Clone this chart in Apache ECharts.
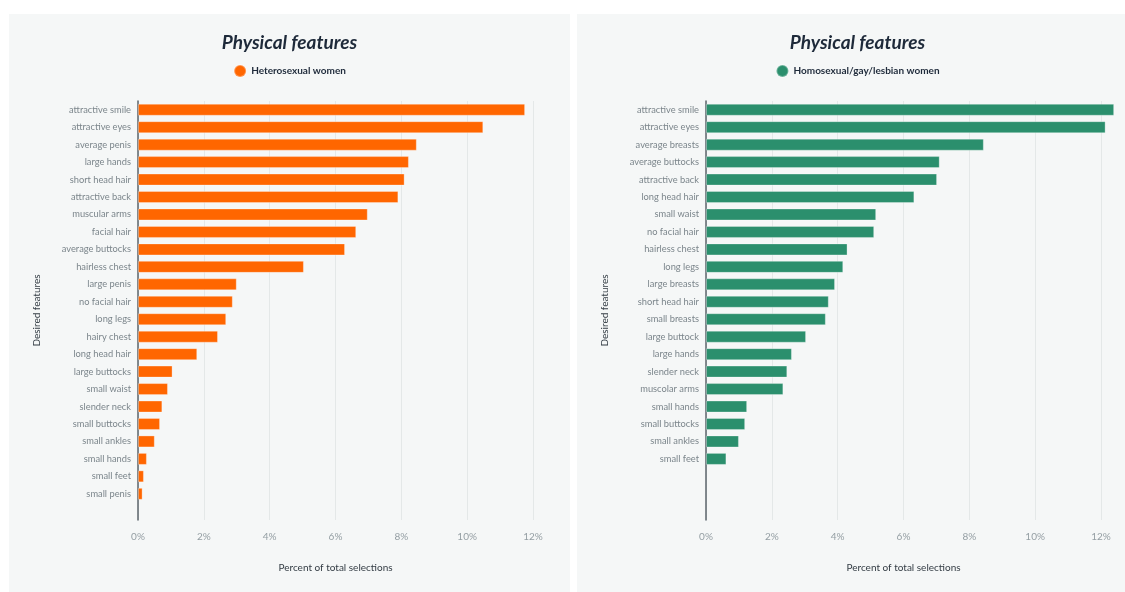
<!DOCTYPE html>
<html>
<head>
<meta charset="utf-8">
<title>Physical features</title>
<script src="https://cdn.jsdelivr.net/npm/echarts@6/dist/echarts.min.js"></script>
<style>
  html, body { margin: 0; padding: 0; background: #fff; width: 1125px; height: 592px; overflow: hidden; }
  .panel { position: absolute; top: 14px; width: 561px; height: 578px; background: #f5f7f7; }
</style>
</head>
<body>
<div class="panel" id="left" style="left: 9px;"></div>
<div class="panel" id="right" style="left: 577px;"></div>
<script>
// heterosexual women
var heteroFeatures = ['attractive smile', 'attractive eyes', 'average penis', 'large hands', 'short head hair',
  'attractive back', 'muscular arms', 'facial hair', 'average buttocks', 'hairless chest', 'large penis',
  'no facial hair', 'long legs', 'hairy chest', 'long head hair', 'large buttocks', 'small waist',
  'slender neck', 'small buttocks', 'small ankles', 'small hands', 'small feet', 'small penis'];
var heteroValues = [11.76, 10.49, 8.47, 8.23, 8.10, 7.91, 6.98, 6.63, 6.29, 5.04, 3.00,
  2.88, 2.68, 2.43, 1.80, 1.05, 0.91, 0.74, 0.67, 0.51, 0.27, 0.18, 0.14];

// homosexual/gay/lesbian women
var lesbianFeatures = ['attractive smile', 'attractive eyes', 'average breasts', 'average buttocks',
  'attractive back', 'long head hair', 'small waist', 'no facial hair', 'hairless chest', 'long legs',
  'large breasts', 'short head hair', 'small breasts', 'large buttock', 'large hands', 'slender neck',
  'muscolar arms', 'small hands', 'small buttocks', 'small ankles', 'small feet'];
var lesbianValues = [12.40, 12.14, 8.44, 7.10, 7.02, 6.33, 5.17, 5.11, 4.30, 4.17,
  3.92, 3.73, 3.64, 3.04, 2.61, 2.47, 2.35, 1.25, 1.19, 1.00, 0.62];

var xTicks = [0, 2, 4, 6, 8, 10, 12];
var SLOTS = 24; // both charts share the same row height

function buildOption(name, color, cats, vals) {
  var axisCats = cats.slice();
  while (axisCats.length < SLOTS) axisCats.push('');
  return {
    animation: false,
    title: {
      text: 'Physical features',
      left: 'center',
      top: 14,
      textStyle: { fontFamily: 'Lato', fontStyle: 'italic', fontWeight: 'bold', fontSize: 19, color: '#1e2a3a' }
    },
    legend: {
      top: 50,
      left: 'center',
      icon: 'circle',
      itemWidth: 12,
      itemHeight: 12,
      itemGap: 8,
      textStyle: { fontFamily: 'Lato', fontWeight: 'bold', fontSize: 10, color: '#1e2a3a' },
      data: [name]
    },
    grid: { left: 129, right: 37, top: 87, height: 419 },
    xAxis: {
      type: 'value',
      min: xTicks[0],
      max: xTicks[xTicks.length - 1],
      interval: 2,
      name: 'Percent of total selections',
      nameLocation: 'middle',
      nameGap: 43,
      nameTextStyle: { fontFamily: 'Lato', fontSize: 10, color: '#333c44' },
      axisLine: { show: false },
      axisTick: { show: false },
      axisLabel: { margin: 12, fontFamily: 'Lato', fontSize: 10, color: '#949ea3', formatter: '{value}%' },
      splitLine: { lineStyle: { color: '#e4e8e8', width: 1 } }
    },
    yAxis: {
      type: 'category',
      inverse: true,
      data: axisCats,
      name: 'Desired features',
      nameLocation: 'middle',
      nameGap: 96,
      nameTextStyle: { fontFamily: 'Lato', fontSize: 10, color: '#333c44' },
      axisLine: { show: true, lineStyle: { color: '#5b646b', width: 1.5 } },
      axisTick: { show: false },
      axisLabel: { margin: 7, fontFamily: 'Lato', fontSize: 9.3, color: '#7b858b', interval: 0 }
    },
    series: [{
      name: name,
      type: 'bar',
      data: vals,
      barWidth: 12,
      clip: false,
      itemStyle: { color: color, borderColor: 'rgba(255,255,255,0.3)', borderWidth: 1 }
    }]
  };
}

var leftChart = echarts.init(document.getElementById('left'));
var leftOption = buildOption('Heterosexual women', '#ff6600', heteroFeatures, heteroValues);
leftOption.legend.top = 45;
leftChart.setOption(leftOption);

var rightChart = echarts.init(document.getElementById('right'));
var rightOption = buildOption('Homosexual/gay/lesbian women', '#2b8f6d', lesbianFeatures, lesbianValues);
rightOption.legend.top = 45;
rightChart.setOption(rightOption);
</script>
</body>
</html>
